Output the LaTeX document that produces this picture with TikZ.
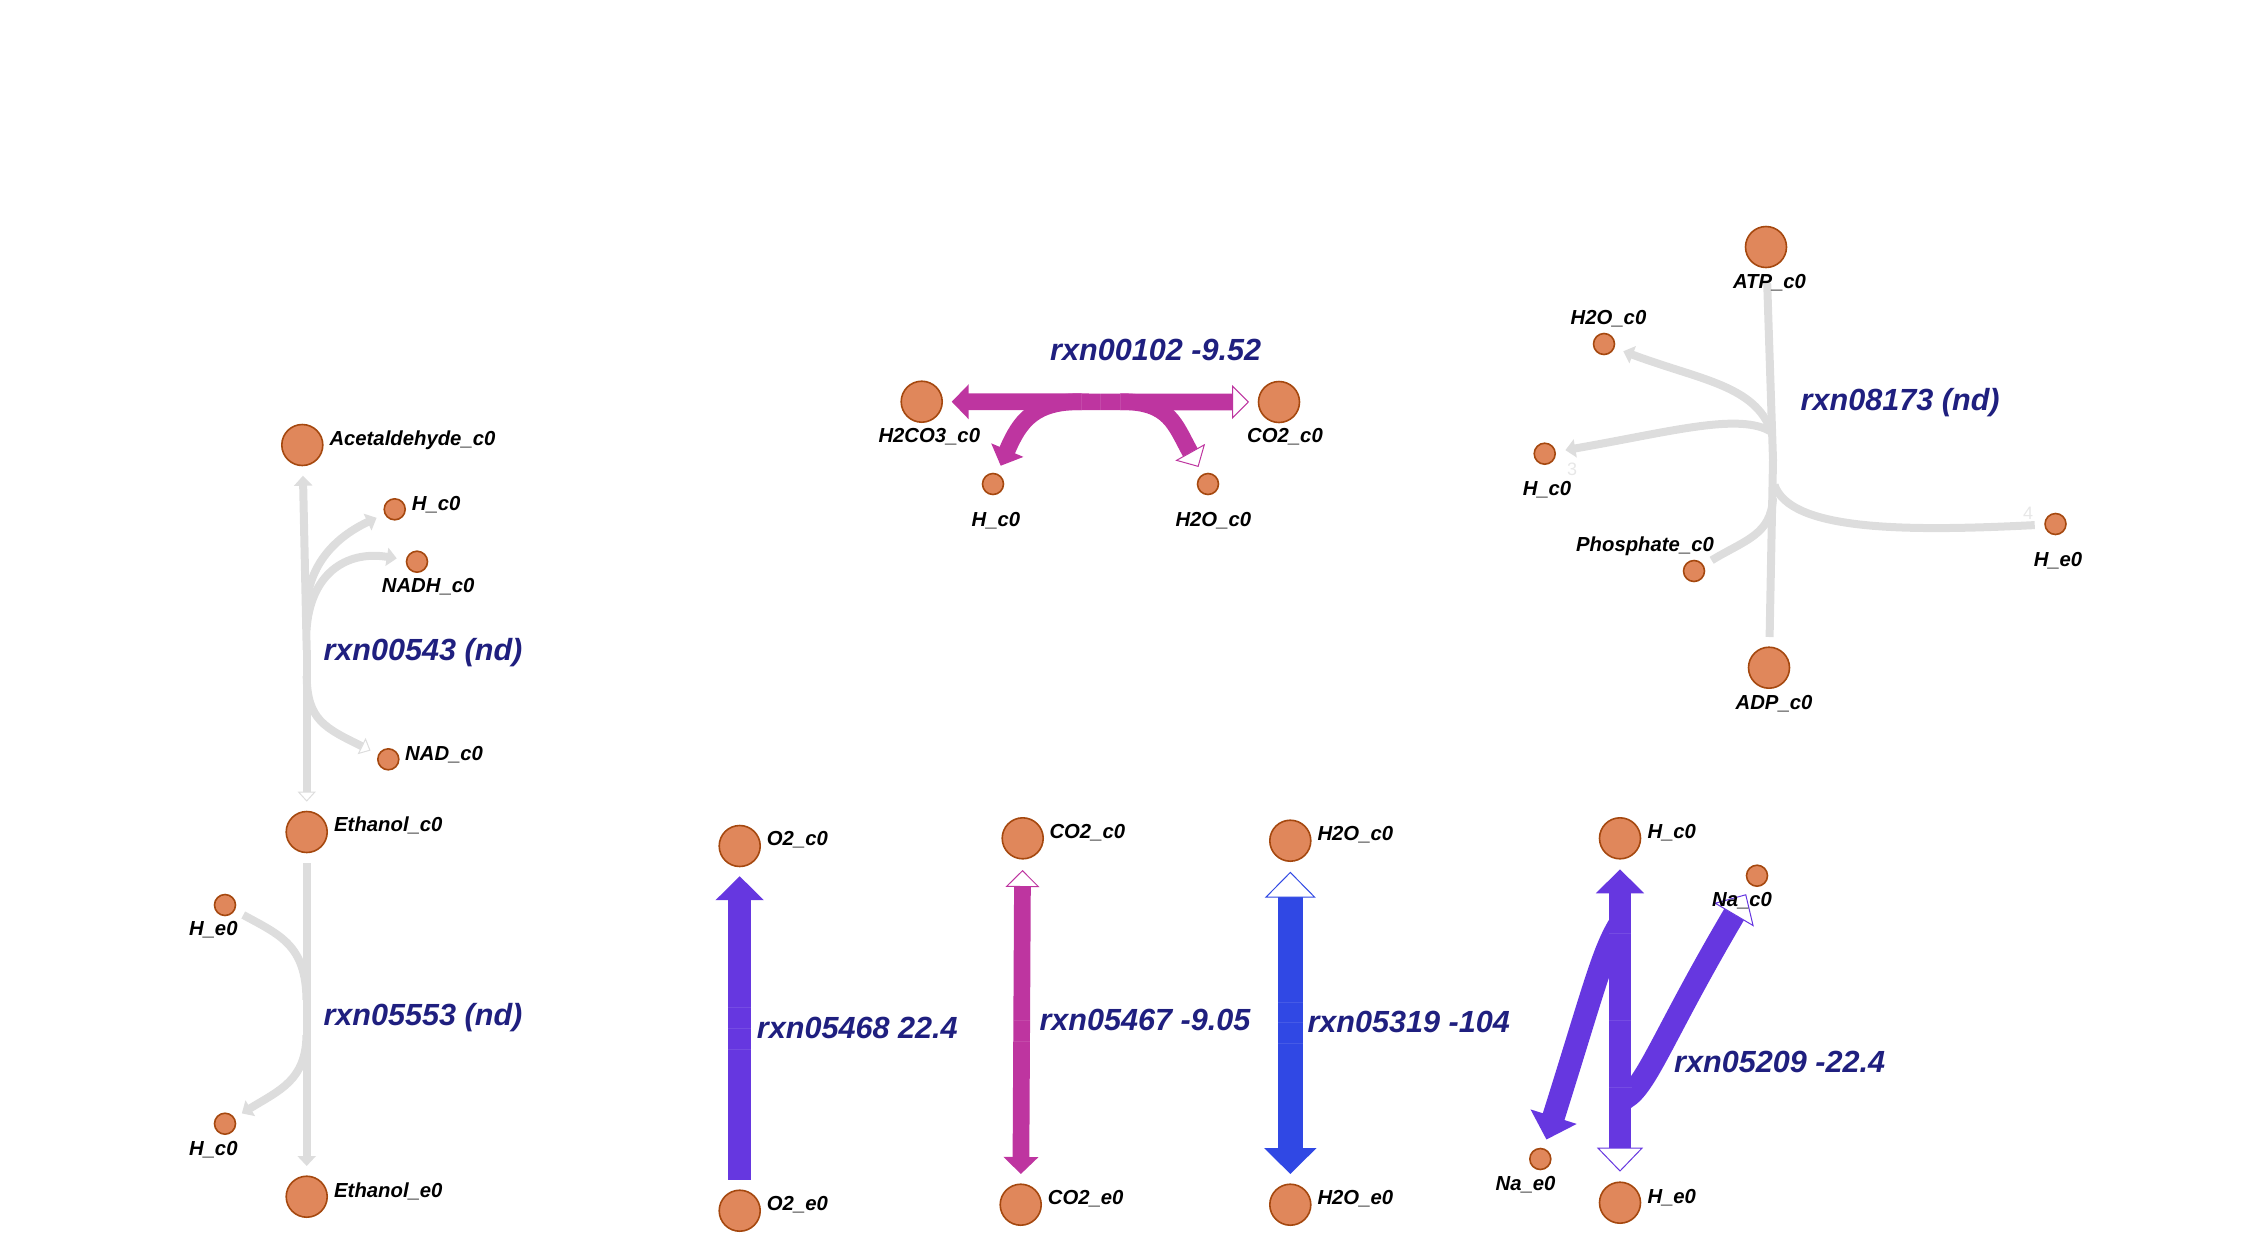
\documentclass[tikz,border=0pt]{standalone}
\usepackage{fontspec}
\setmainfont{Liberation Sans}
\usetikzlibrary{arrows.meta}
\definecolor{molfill}{HTML}{E0875B}
\definecolor{moledge}{HTML}{A5480F}
\definecolor{rxntext}{HTML}{1F1F7F}
\definecolor{ndgrey}{HTML}{DDDDDD}
\definecolor{magflux}{HTML}{BE35A0}
\definecolor{purpflux}{HTML}{6637E0}
\definecolor{blueflux}{HTML}{3048E4}
\tikzset{
  molbig/.style={circle, draw=moledge, fill=molfill, line width=1.6pt, minimum size=41pt, inner sep=0pt, outer sep=0pt},
  molsmall/.style={molbig, minimum size=21pt},
  molname/.style={font=\bfseries\itshape\fontsize{20.3}{20}\selectfont, inner sep=0pt, anchor=base west},
  molmid/.style={molname, anchor=base},
  rxnname/.style={font=\bfseries\itshape\fontsize{30.6}{30}\selectfont, text=rxntext, inner sep=0pt, anchor=base west},
  faint/.style={font=\fontsize{18}{18}\selectfont, text=ndgrey!70, inner sep=0pt},
  ndfill/.tip={Triangle[length=10pt, width=18pt]},
  ndopen/.tip={Triangle[open, fill=white, color=ndgrey, line width=1pt, length=10pt, width=18pt]},
  magfill/.tip={Triangle[length=17pt, width=34pt]},
  magopen/.tip={Triangle[open, fill=white, line width=1pt, length=17pt, width=34pt]},
  purpfill/.tip={Triangle[length=24pt, width=47pt]},
  purpopen/.tip={Triangle[open, fill=white, line width=1pt, length=24pt, width=46pt]},
  bluefill/.tip={Triangle[length=26pt, width=51pt]},
  blueopen/.tip={Triangle[open, fill=white, line width=1pt, length=26pt, width=51pt]},
  fluxnd/.style={draw=ndgrey, line width=8pt},
  fluxmag/.style={draw=magflux, line width=16.7pt},
  fluxpurp/.style={draw=purpflux, line width=22.7pt},
  fluxblue/.style={draw=blueflux, line width=25pt},
  seam/.style={draw=white, draw opacity=0.1, line width=1pt},
}
\begin{document}
\begin{tikzpicture}[x=1pt, y=-1pt]
\useasboundingbox (0,0) rectangle (2249,1254);

% metabolites, left column
\node[molbig] (acetc) at (302.3,445) {};
\node[molsmall] (hc543) at (394.7,509.3) {};
\node[molsmall] (nadhc) at (417,561.7) {};
\node[molsmall] (nadc) at (388.3,759.3) {};
\node[molbig] (ethc) at (306.7,832) {};
\node[molsmall] (he553) at (225,905) {};
\node[molsmall] (hc553) at (225,1123.7) {};
\node[molbig] (ethe) at (306.7,1196.7) {};
% top middle
\node[molbig] (hcoc) at (921.7,401.7) {};
\node[molbig] (co2c102) at (1279,402) {};
\node[molsmall] (hc102) at (993,484) {};
\node[molsmall] (h2oc102) at (1208,484) {};
% top right
\node[molbig] (atpc) at (1766,247) {};
\node[molsmall] (h2oc173) at (1604,344) {};
\node[molsmall] (hc173) at (1544.7,453.7) {};
\node[molsmall] (phosc) at (1694,571) {};
\node[molsmall] (he173) at (2055.5,524) {};
\node[molbig] (adpc) at (1769,667.7) {};
% bottom row
\node[molbig] (o2c) at (739.7,846) {};
\node[molbig] (o2e) at (739.7,1210.7) {};
\node[molbig] (co2c) at (1022.7,838.3) {};
\node[molbig] (co2e) at (1020.7,1204.7) {};
\node[molbig] (h2oc) at (1290.3,840.7) {};
\node[molbig] (h2oe) at (1290.3,1204.7) {};
\node[molbig] (hc209) at (1620,838.3) {};
\node[molbig] (he209) at (1620,1202.7) {};
\node[molsmall] (nac) at (1757,875.7) {};
\node[molsmall] (nae) at (1540.3,1159) {};

% branch points on the stems
\coordinate (ce543) at (306.7,650);
\coordinate (up543) at (306.5,605);
\coordinate (mid543) at (306.5,630);
\coordinate (lo543) at (306.7,676);
\coordinate (up553) at (306.5,1000);
\coordinate (lo553) at (306.5,1035);
\coordinate (le102) at (1082,401.7);
\coordinate (ri102) at (1120,401.7);
\coordinate (ce173) at (1773,460);
\coordinate (up173) at (1771.5,432);
\coordinate (re173) at (1774.5,485);
\coordinate (lo173) at (1773,498);
\coordinate (up209) at (1621,922);
\coordinate (lo209) at (1621,1100);

% rxn00543
\draw[fluxnd, ndfill-, shorten <=10.2pt] (acetc) -- (ce543);
\draw[fluxnd, -ndopen, shorten >=9.8pt] (ce543) -- (ethc);
\draw[fluxnd, -ndfill, shorten >=9.5pt] (up543) .. controls (310,560) and (340,535) .. (hc543);
\draw[fluxnd, -ndfill, shorten >=10pt] (mid543) .. controls (310,575) and (345,550) .. (nadhc);
\draw[fluxnd, -ndopen, shorten >=9.3pt] (lo543) .. controls (307,720) and (325,728) .. (nadc);
% rxn05553
\draw[fluxnd, -ndfill, shorten <=10.8pt, shorten >=10.2pt] (ethc) -- (ethe);
\draw[fluxnd, shorten <=10.3pt] (he553) .. controls (280,935) and (306,945) .. (up553);
\draw[fluxnd, -ndfill, shorten >=9.2pt] (lo553) .. controls (306,1080) and (280,1090) .. (hc553);
% rxn00102
\draw[fluxmag, magfill-magopen, shorten <=9.5pt, shorten >=9.5pt] (hcoc) -- (co2c102);
\draw[fluxmag, -magfill, shorten >=9.3pt] (le102) .. controls (1035,401) and (1020,420) .. (hc102);
\draw[fluxmag, -magopen, shorten >=9pt] (ri102) .. controls (1170,401) and (1175,425) .. (h2oc102);
% rxn08173
\draw[fluxnd, shorten <=15.5pt] (atpc) -- (ce173);
\draw[fluxnd, shorten >=10.2pt] (ce173) -- (adpc);
\draw[fluxnd, -ndfill, shorten >=10.1pt] (up173) .. controls (1755,385) and (1700,380) .. (h2oc173);
\draw[fluxnd, -ndfill, shorten >=10.5pt] (up173) .. controls (1740,412) and (1670,432) .. (hc173);
\draw[fluxnd, shorten <=10.3pt] (he173) .. controls (1900,532) and (1790,530) .. (re173);
\draw[fluxnd, shorten <=10.1pt] (phosc) .. controls (1745,540) and (1771,535) .. (lo173);
% bottom row
\draw[fluxpurp, -purpfill, shorten <=10.4pt, shorten >=9.7pt] (o2e) -- (o2c);
\draw[fluxmag, magopen-magfill, shorten <=11.2pt, shorten >=10.2pt] (co2c) -- (co2e);
\draw[fluxblue, blueopen-bluefill, shorten <=10.5pt, shorten >=10.2pt] (h2oc) -- (h2oe);
\draw[fluxpurp, purpfill-purpopen, shorten <=10.5pt, shorten >=10.5pt] (hc209) -- (he209);
\draw[fluxpurp, -purpfill, shorten >=9.9pt] (up209) .. controls (1603,950) and (1595,985) .. (nae);
\draw[fluxpurp, -purpopen, shorten >=10.9pt] (lo209) .. controls (1645,1092) and (1660,1040) .. (nac);

% seams between the segments
\foreach \y in {1007.3,1028.3,1049.3} \draw[seam] (728.4,\y) -- (751,\y);
\foreach \y in {1020.7,1041} \draw[seam] (1013.5,\y) -- (1030,\y);
\foreach \y in {1002,1022,1043} \draw[seam] (1278,\y) -- (1302.6,\y);
\foreach \y in {933,1020,1087} \draw[seam] (1609,\y) -- (1631.5,\y);
\foreach \x in {1081,1100.7,1120} \draw[seam] (\x,393.3) -- (\x,410);

% names of the metabolites
\node[molname] (acetcname) at (329.3,445) {Acetaldehyde\_c0};
\node[molname] (hc543name) at (411.7,510) {H\_c0};
\node[molname] (nadhcname) at (381.7,592.7) {NADH\_c0};
\node[molname] (nadcname) at (405,760) {NAD\_c0};
\node[molname] (ethcname) at (334,831.7) {Ethanol\_c0};
\node[molmid] (he553name) at (213.3,935.7) {H\_e0};
\node[molmid] (hc553name) at (213.3,1155) {H\_c0};
\node[molname] (ethename) at (334,1197) {Ethanol\_e0};
\node[molmid] (hcocname) at (929.3,442.7) {H2CO3\_c0};
\node[molmid] (co2c102name) at (1285,442.7) {CO2\_c0};
\node[molmid] (hc102name) at (996,526) {H\_c0};
\node[molmid] (h2oc102name) at (1213.3,526) {H2O\_c0};
\node[molmid] (atpcname) at (1769.5,288) {ATP\_c0};
\node[molmid] (h2oc173name) at (1608.5,324) {H2O\_c0};
\node[molmid] (hc173name) at (1547,495) {H\_c0};
\node[molmid] (phoscname) at (1645,551) {Phosphate\_c0};
\node[molmid] (he173name) at (2058,566) {H\_e0};
\node[molmid] (adpcname) at (1774,709) {ADP\_c0};
\node[molname] (o2cname) at (766.7,845.3) {O2\_c0};
\node[molname] (o2ename) at (766.7,1210) {O2\_e0};
\node[molname] (co2cname) at (1049.3,838.3) {CO2\_c0};
\node[molname] (co2ename) at (1047.7,1204) {CO2\_e0};
\node[molname] (h2ocname) at (1317.3,840.7) {H2O\_c0};
\node[molname] (h2oename) at (1317.3,1204) {H2O\_e0};
\node[molname] (hc209name) at (1647.3,838.3) {H\_c0};
\node[molname] (he209name) at (1647.3,1203.3) {H\_e0};
\node[molname] (nacname) at (1712,906.7) {Na\_c0};
\node[molname] (naename) at (1495.5,1190) {Na\_e0};

% names of the reactions
\node[rxnname] (rxn543) at (323.3,660.7) {rxn00543 (nd)};
\node[rxnname] (rxn553) at (323.3,1025) {rxn05553 (nd)};
\node[rxnname] (rxn102) at (1050,360) {rxn00102 -9.52};
\node[rxnname] (rxn173) at (1800.5,410) {rxn08173 (nd)};
\node[rxnname] (rxn468) at (756.7,1038.3) {rxn05468 22.4};
\node[rxnname] (rxn467) at (1039.3,1030) {rxn05467 -9.05};
\node[rxnname] (rxn319) at (1307.3,1032.7) {rxn05319 -104};
\node[rxnname] (rxn209) at (1674,1072.7) {rxn05209 -22.4};

% faint stoichiometry marks
\node[faint] (stoich3) at (1572,469) {3};
\node[faint] (stoich4) at (2028,513) {4};
\end{tikzpicture}
\end{document}
